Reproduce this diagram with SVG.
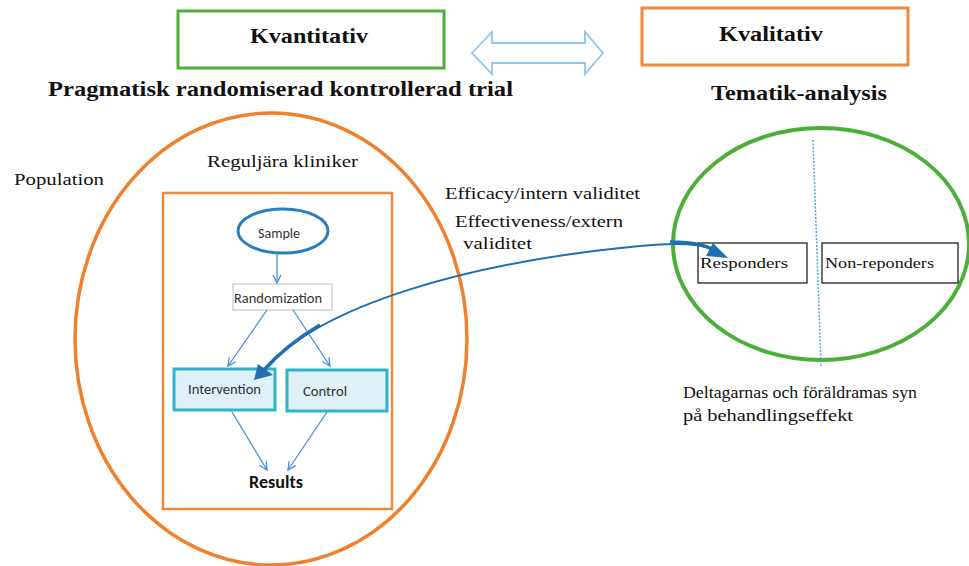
<svg xmlns="http://www.w3.org/2000/svg" width="969" height="566" viewBox="0 0 969 566">
<defs>
<style>
.serif{font-family:"Liberation Serif","Times New Roman",serif;fill:#111;}
.b{font-weight:bold;}
.sans{font-family:Carlito,"Liberation Sans",Arial,sans-serif;fill:#333;}
.flow{stroke:#4a90d9;stroke-width:1.3;fill:none;marker-end:url(#open);}
.tbox{fill:#dff0f7;stroke:#2fb4c9;stroke-width:3;}
</style>
<marker id="open" viewBox="0 0 10 10" refX="9" refY="5" markerWidth="10" markerHeight="10" markerUnits="userSpaceOnUse" orient="auto">
<path d="M1 1 L9 5 L1 9" fill="none" stroke="#4a90d9" stroke-width="1.3"/>
</marker>
</defs>
<rect width="969" height="566" fill="#fff"/>

<g id="kvantitativ">
<rect x="178" y="11" width="266" height="57" fill="#fff" stroke="#4caf3a" stroke-width="3"/>
<text class="serif b" x="250" y="43" font-size="22" textLength="118" lengthAdjust="spacingAndGlyphs">Kvantitativ</text>
</g>
<g id="kvalitativ">
<rect x="642" y="8" width="266" height="57" fill="#fff" stroke="#f0893c" stroke-width="3"/>
<text class="serif b" x="719" y="41" font-size="22" textLength="104" lengthAdjust="spacingAndGlyphs">Kvalitativ</text>
</g>
<g id="double-arrow">
<polygon points="472,53 492,32 492,43 585,43 585,32 603,53 585,74 585,63 492,63 492,74" fill="#fff" stroke="#8ec5ee" stroke-width="1.8"/>
</g>

<text class="serif b" x="48" y="96" font-size="21" textLength="465" lengthAdjust="spacingAndGlyphs">Pragmatisk randomiserad kontrollerad trial</text>
<text class="serif b" x="711" y="100" font-size="21" textLength="176" lengthAdjust="spacingAndGlyphs">Tematik-analysis</text>

<g id="population">
<ellipse cx="271" cy="339" rx="196" ry="226" fill="none" stroke="#f0802c" stroke-width="3.5"/>
<text class="serif" x="14" y="185" font-size="17" textLength="90" lengthAdjust="spacingAndGlyphs">Population</text>
</g>
<g id="kliniker">
<rect x="163" y="193" width="229" height="316" fill="none" stroke="#f0893c" stroke-width="2.5"/>
<text class="serif" x="207" y="167" font-size="17" textLength="151" lengthAdjust="spacingAndGlyphs">Reguljära kliniker</text>
</g>
<g id="sample">
<ellipse cx="283" cy="231" rx="45" ry="22" fill="#fff" stroke="#2a7fc0" stroke-width="3"/>
<text class="sans" x="258" y="238" font-size="15" textLength="42" lengthAdjust="spacingAndGlyphs">Sample</text>
</g>
<g id="randomization">
<rect x="233" y="284" width="99" height="26" fill="#fff" stroke="#bbb" stroke-width="1"/>
<text class="sans" x="234" y="303" font-size="15" textLength="88" lengthAdjust="spacingAndGlyphs">Randomization</text>
</g>
<g id="intervention">
<rect class="tbox" x="174" y="369" width="101" height="41"/>
<text class="sans" x="188" y="394" font-size="15" textLength="73" lengthAdjust="spacingAndGlyphs">Intervention</text>
</g>
<g id="control">
<rect class="tbox" x="287" y="370" width="100" height="41"/>
<text class="sans" x="303" y="396" font-size="15" textLength="44" lengthAdjust="spacingAndGlyphs">Control</text>
</g>
<g id="results">
<text class="sans b" x="249" y="488" font-size="19" textLength="54" lengthAdjust="spacingAndGlyphs" style="fill:#111">Results</text>
</g>

<g id="qual">
<ellipse cx="821" cy="244" rx="148" ry="116" fill="none" stroke="#4caf3a" stroke-width="4"/>
<line x1="813" y1="140" x2="821" y2="366" stroke="#4aa8e0" stroke-width="1.5" stroke-dasharray="2,1.5"/>
</g>
<g id="responders">
<rect x="698" y="243" width="109" height="40" fill="#fff" stroke="#222" stroke-width="1.3"/>
<text class="serif" x="700" y="268" font-size="15" textLength="88" lengthAdjust="spacingAndGlyphs">Responders</text>
</g>
<g id="nonresponders">
<rect x="822" y="243" width="136" height="40" fill="#fff" stroke="#222" stroke-width="1.3"/>
<text class="serif" x="825" y="268" font-size="15" textLength="109" lengthAdjust="spacingAndGlyphs">Non-reponders</text>
</g>

<g id="labels">
<text class="serif" x="445" y="199" font-size="17" textLength="195" lengthAdjust="spacingAndGlyphs">Efficacy/intern validitet</text>
<text class="serif" x="455" y="227" font-size="17" textLength="168" lengthAdjust="spacingAndGlyphs">Effectiveness/extern</text>
<text class="serif" x="463" y="249" font-size="17" textLength="69" lengthAdjust="spacingAndGlyphs">validitet</text>
<text class="serif" x="683" y="398" font-size="16" textLength="234" lengthAdjust="spacingAndGlyphs">Deltagarnas och föräldramas syn</text>
<text class="serif" x="683" y="421" font-size="16" textLength="170" lengthAdjust="spacingAndGlyphs">på behandlingseffekt</text>
</g>

<g id="connectors">
<line class="flow" x1="277" y1="252" x2="277" y2="283"/>
<line class="flow" x1="267" y1="310" x2="228" y2="366"/>
<line class="flow" x1="293" y1="310" x2="330" y2="366"/>
<line class="flow" x1="232" y1="412" x2="267" y2="470"/>
<line class="flow" x1="327" y1="412" x2="288" y2="470"/>
<path d="M264 370 C320 305, 470 262, 640 246 C680 242, 700 244, 712 249" fill="none" stroke="#1f6fb2" stroke-width="2"/>
<path d="M264 370 C280 352, 298 338, 320 325" fill="none" stroke="#1f6fb2" stroke-width="3.5"/>
<path d="M670 242 C690 242, 702 244, 712 249" fill="none" stroke="#1f6fb2" stroke-width="3.5"/>
<polygon points="254,380 258,364 273,375" fill="#1f6fb2"/>
<polygon points="728,258 706,256 713,243" fill="#1f6fb2"/>
</g>
</svg>
